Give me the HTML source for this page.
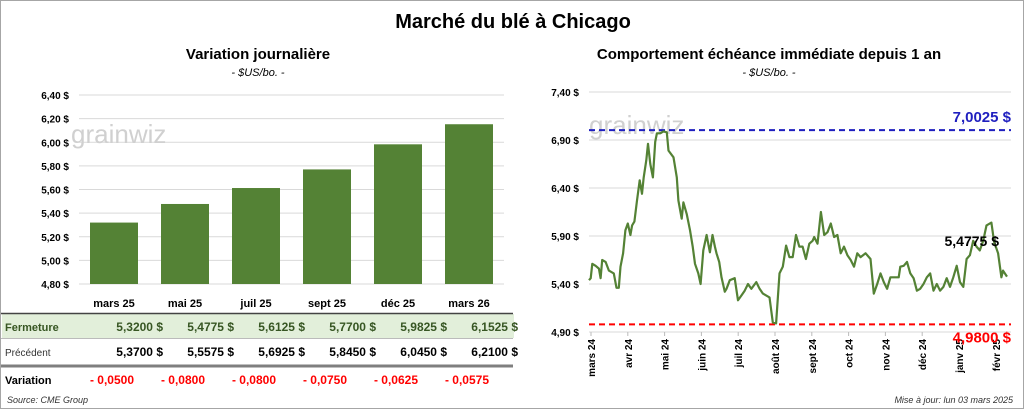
<!DOCTYPE html>
<html><head><meta charset="utf-8">
<style>
body{margin:0;background:#fff;font-family:"Liberation Sans",sans-serif;}
#wrap{position:relative;width:1022px;height:407px;border:1px solid #a6a6a6;overflow:hidden;}
svg{position:absolute;left:0;top:0;}
</style></head>
<body>
<div id="wrap">
<svg id="s" width="1024" height="409" font-family="Liberation Sans, sans-serif">
<text x="512" y="27" text-anchor="middle" font-size="20" font-weight="bold">Marché du blé à Chicago</text>
<text x="257" y="58" text-anchor="middle" font-size="15" font-weight="bold">Variation journalière</text>
<text x="257" y="75" text-anchor="middle" font-size="11" font-style="italic">- $US/bo. -</text>
<text x="768" y="58" text-anchor="middle" font-size="15" font-weight="bold">Comportement échéance immédiate depuis 1 an</text>
<text x="768" y="75" text-anchor="middle" font-size="11" font-style="italic">- $US/bo. -</text>
<g id="left"></g>
<g id="table"></g>
<g id="right"></g>
<text x="6" y="402" font-size="9" font-style="italic" fill="#333">Source: CME Group</text>
<text x="1012" y="402" text-anchor="end" font-size="9" font-style="italic" fill="#333">Mise à jour: lun 03 mars 2025</text>
</svg>
</div>
<script>
const contracts=["mars 25","mai 25","juil 25","sept 25","déc 25","mars 26"];
const closeVals=[5.32,5.4775,5.6125,5.77,5.9825,6.1525];
const prevVals=[5.37,5.5575,5.6925,5.845,6.045,6.21];
const changeVals=[-0.05,-0.08,-0.08,-0.075,-0.0625,-0.0575];
const leftTicks=[4.8,5.0,5.2,5.4,5.6,5.8,6.0,6.2,6.4];

const dayIndex=[0,5,10,20,30,35,40,50,60,75,83,90,95,103,110,117,125,130,137,145,153,160,165,173,178,185,193,200,205,215,225,235,240,255,265,270,280,285,295,305,313,320,330,337,345,355,365,373,380,385,393,400,410,415,425,440,450,460,470,480,490,505,515,525,545,555,565,575,585,595,605,615,625,635,645,655,665,675,680,690,700,710,720,730,740,750,760,770,780,790,800,810,820,835,850,860,870,880,890,900,910,925,935,940,950,960,970,980,990,1000,1010,1020,1030,1040,1050,1060,1070,1080,1090,1100,1110,1120,1130,1140,1150,1160,1170,1180,1190,1200,1215,1223,1235,1245,1250,1262];
const priceVals=[5.44,5.46,5.61,5.59,5.56,5.46,5.65,5.63,5.54,5.51,5.36,5.36,5.58,5.72,5.96,6.03,5.91,6.01,6.05,6.27,6.48,6.34,6.51,6.69,6.86,6.65,6.51,6.88,6.97,6.97,6.99,6.98,6.79,6.72,6.51,6.27,6.08,6.25,6.13,5.96,5.79,5.61,5.51,5.40,5.75,5.91,5.73,5.91,5.79,5.72,5.63,5.47,5.32,5.35,5.44,5.46,5.23,5.28,5.33,5.40,5.35,5.42,5.35,5.30,5.26,5.00,4.99,5.51,5.58,5.80,5.68,5.68,5.91,5.79,5.79,5.66,5.82,5.85,5.89,5.82,6.15,5.91,5.94,6.03,5.89,5.91,5.72,5.79,5.70,5.65,5.58,5.72,5.68,5.72,5.66,5.30,5.40,5.51,5.42,5.35,5.47,5.47,5.47,5.58,5.59,5.63,5.51,5.46,5.33,5.35,5.40,5.47,5.51,5.33,5.40,5.33,5.37,5.46,5.37,5.47,5.59,5.42,5.37,5.66,5.70,5.85,5.79,5.75,5.85,6.01,6.04,5.84,5.72,5.47,5.54,5.4775];
const rightTicks=[4.9,5.4,5.9,6.4,6.9,7.4];
const monthLabels=["mars 24","avr 24","mai 24","juin 24","juil 24","août 24","sept 24","oct 24","nov 24","déc 24","janv 25","févr 25"];
const highVal=7.0025, lowVal=4.98, lastVal=5.4775;

const NS="http://www.w3.org/2000/svg";
function mk(parent,tag,attrs,text){const e=document.createElementNS(NS,tag);for(const k in attrs)e.setAttribute(k,attrs[k]);if(text!==undefined)e.textContent=text;parent.appendChild(e);return e;}
const fmt2=v=>v.toFixed(2).replace('.',',')+' $';
const fmt4=v=>v.toFixed(4).replace('.',',');

// LEFT CHART
const L=document.getElementById('left');
const ly=v=>283-(v-4.8)/(6.4-4.8)*189;
const lx=i=>113+i*71;
leftTicks.forEach(t=>{
  const g=mk(L,'line',{x1:78,x2:503,y1:ly(t),y2:ly(t),stroke:'#d9d9d9','stroke-width':1});
  
  const tx=mk(L,'text',{x:68,y:ly(t)+4,'text-anchor':'end','font-size':10,'font-weight':'bold'},fmt2(t));
  
});
const wm1=mk(L,'text',{x:70,y:142,'font-size':26,fill:'#d0d0d0'},'grainwiz');

closeVals.forEach((v,i)=>{
  const r=mk(L,'rect',{x:lx(i)-24,y:ly(v),width:48,height:ly(4.8)-ly(v),fill:'#548235'});
  
});

// TABLE
const T=document.getElementById('table');
const bg=mk(T,'rect',{x:1,y:313,width:512,height:24,fill:'#e2efda'});

const l1=mk(T,'line',{x1:0,x2:512,y1:312.5,y2:312.5,stroke:'#444','stroke-width':1.5});

const l2=mk(T,'line',{x1:0,x2:512,y1:337.5,y2:337.5,stroke:'#bbb','stroke-width':1});

const l3=mk(T,'line',{x1:0,x2:512,y1:365,y2:365,stroke:'#7f7f7f','stroke-width':3});

const rl1=mk(T,'text',{x:4,y:330,'font-size':11,'font-weight':'bold',fill:'#375623'},'Fermeture');

const rl2=mk(T,'text',{x:4,y:355,'font-size':10,fill:'#333'},'Précédent');

const rl3=mk(T,'text',{x:4,y:383,'font-size':11,'font-weight':'bold'},'Variation');

contracts.forEach((c,i)=>{
  const h=mk(T,'text',{x:lx(i),y:306,'text-anchor':'middle','font-size':11,'font-weight':'bold'},c);
  
  const a=mk(T,'text',{x:lx(i)+49,y:330,'text-anchor':'end','font-size':12,'font-weight':'bold',fill:'#375623'},fmt4(closeVals[i])+'  $');
  a.setAttribute('xml:space','preserve');
  const b=mk(T,'text',{x:lx(i)+49,y:355,'text-anchor':'end','font-size':12,'font-weight':'bold'},fmt4(prevVals[i])+'  $');
  
  const d=mk(T,'text',{x:lx(i)+20,y:383,'text-anchor':'end','font-size':12,'font-weight':'bold',fill:'#ff0000'},'- '+fmt4(Math.abs(changeVals[i])));
  
});

// RIGHT CHART
const R=document.getElementById('right');
const X0=588,X1=1010;
const ry=v=>331-(v-4.9)/(7.4-4.9)*240;
const rx=d=>X0+d/1262*(X1-X0-4);
rightTicks.forEach(t=>{
  const g=mk(R,'line',{x1:X0,x2:X1,y1:ry(t),y2:ry(t),stroke:'#d9d9d9','stroke-width':1});
  
  const tx=mk(R,'text',{x:578,y:ry(t)+4,'text-anchor':'end','font-size':10,'font-weight':'bold'},fmt2(t));
  
});
const wm2=mk(R,'text',{x:588,y:133,'font-size':26,fill:'#d0d0d0'},'grainwiz');

monthLabels.forEach((m,i)=>{
  const x=X0+2+i*36.8;
  const tk=mk(R,'line',{x1:x,x2:x,y1:331,y2:335,stroke:'#bbb'});
  
  const t=mk(R,'text',{x:x+4,y:338,'text-anchor':'end','font-size':10,'font-weight':'bold',transform:`rotate(-90 ${x+4} 338)`},m);
  
});
const hl=mk(R,'line',{x1:X0,x2:X1,y1:ry(highVal),y2:ry(highVal),stroke:'#1f1fbf','stroke-width':2,'stroke-dasharray':'6,4'});

const ht=mk(R,'text',{x:1010,y:ry(highVal)-8,'text-anchor':'end','font-size':15,'font-weight':'bold',fill:'#1f1fbf'},fmt4(highVal)+' $');

const lo=mk(R,'line',{x1:X0,x2:X1,y1:ry(lowVal),y2:ry(lowVal),stroke:'#ff0000','stroke-width':2,'stroke-dasharray':'6,4'});

const lt=mk(R,'text',{x:1010,y:ry(lowVal)+18,'text-anchor':'end','font-size':15,'font-weight':'bold',fill:'#ff0000'},fmt4(lowVal)+' $');

let d='';dayIndex.forEach((dd,i)=>{d+=(i?'L':'M')+rx(dd).toFixed(1)+','+ry(priceVals[i]).toFixed(1);});
const pl=mk(R,'path',{d:d,fill:'none',stroke:'#548235','stroke-width':2.2,'stroke-linejoin':'round'});

const lastT=mk(R,'text',{x:998,y:ry(5.9)+10,'text-anchor':'end','font-size':14,'font-weight':'bold'},fmt4(lastVal)+' $');

</script>
</body></html>
